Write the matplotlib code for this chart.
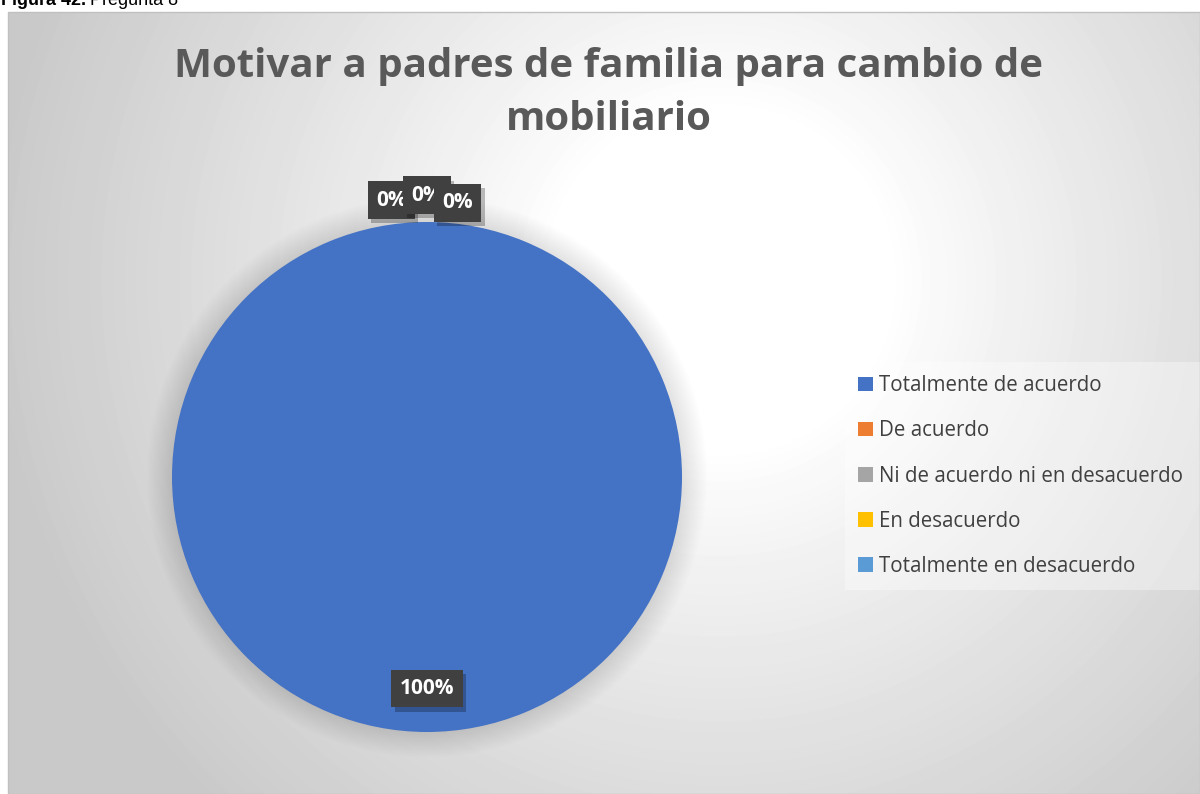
import numpy as np
import matplotlib
matplotlib.use('Agg')
import matplotlib.pyplot as plt
import matplotlib.patheffects as pe
from matplotlib.patches import Rectangle, Circle

# data
categories = ['Totalmente de acuerdo', 'De acuerdo', 'Ni de acuerdo ni en desacuerdo',
              'En desacuerdo', 'Totalmente en desacuerdo']
values = [100, 0, 0, 0, 0]
colors_list = ['#4472C4', '#ED7D31', '#A5A5A5', '#FFC000', '#5B9BD5']
title_text = 'Motivar a padres de familia para cambio de\nmobiliario'

W, H = 1200, 794
fig = plt.figure(figsize=(W / 100, H / 100), dpi=100)
fig.patch.set_facecolor('white')

# chart area background (radial gradient, white around the upper middle)
bg = fig.add_axes([8 / W, 0, 1 - 8 / W, 1 - 12 / H])
bg.set_axis_off()
yy, xx = np.mgrid[0:782, 0:1192]
dist = np.sqrt((xx - 712) ** 2 + (yy - 268) ** 2)
shade = 1.0 - 0.21 * np.clip((dist - 170) / 560, 0, 1) ** 0.9
bg.imshow(shade, cmap='gray', vmin=0, vmax=1, aspect='auto', interpolation='bilinear')
fig.add_artist(Rectangle((8 / W, 0), 1 - 8 / W, 1 - 12 / H, transform=fig.transFigure,
                         fill=False, edgecolor='#c0c0c0', linewidth=1))

# caption above the chart (clipped at top like in the document)
cap1 = fig.text(1 / W, 1 - 5 / H, 'Figura 42.', fontsize=13, fontweight='bold',
                family='Liberation Sans', va='baseline', ha='left')
fig.canvas.draw()
bb = cap1.get_window_extent()
fig.text((bb.x1 + 4) / W, 1 - 5 / H, 'Pregunta 8', fontsize=13,
         family='Liberation Sans', va='baseline', ha='left')

fig.text(609 / W, 1 - 93 / H, title_text, ha='center', va='center', fontsize=29,
         fontweight='bold', color='#595959', family='Open Sans', linespacing=1.45)

ax = fig.add_axes([172 / W, 1 - 732 / H, 510 / W, 510 / H])
ax.set_axis_off()
# soft shadow around the pie
for k in range(14):
    ax.add_patch(Circle((0, 0), 1.0 + 0.007 * (k + 1), facecolor='#000000',
                        alpha=0.009, edgecolor='none', clip_on=False, zorder=0))
wedges, _ = ax.pie(values, colors=colors_list, startangle=90, counterclock=False,
                   radius=1, wedgeprops={'linewidth': 0})
ax.set_xlim(-1, 1)
ax.set_ylim(-1, 1)

total = sum(values)
zero_offsets = [-0.14, 0.0, 0.12]
zero_rise = [1.085, 1.105, 1.075]
zi = 0
for w, v in zip(wedges, values):
    pct = '%d%%' % round(100 * v / total)
    mid = np.deg2rad((w.theta1 + w.theta2) / 2)
    if v > 0:
        x, y = 0.83 * np.cos(mid), 0.83 * np.sin(mid)
    else:
        if zi >= len(zero_offsets):
            continue
        x = zero_offsets[zi]
        y = zero_rise[zi]
        zi += 1
    t = ax.text(x, y, pct, ha='center', va='center', fontsize=15, fontweight='bold',
                color='white', family='Open Sans', clip_on=False, zorder=5,
                bbox=dict(boxstyle='square,pad=0.4', facecolor='#404040', edgecolor='none'))
    t.get_bbox_patch().set_path_effects([
        pe.SimplePatchShadow(offset=(2.5, -3), shadow_rgbFace='#000000', alpha=0.25),
        pe.Normal()])

# legend
leg_ax = fig.add_axes([845 / W, 1 - 590 / H, 355 / W, 228 / H])
leg_ax.set_axis_off()
leg_ax.add_patch(Rectangle((0, 0), 1, 1, transform=leg_ax.transAxes,
                           facecolor='white', alpha=0.35, edgecolor='none'))
handles = [Rectangle((0, 0), 1, 1, facecolor=c, edgecolor='none') for c in colors_list]
leg = leg_ax.legend(handles, categories, loc='center left', bbox_to_anchor=(0.0, 0.5),
                    frameon=False, handlelength=0.7, handleheight=0.7,
                    handletextpad=0.3, labelspacing=1.17, borderaxespad=0.25,
                    prop={'family': 'Open Sans', 'size': 14.8})
for t in leg.get_texts():
    t.set_color('#404040')

fig.savefig('out.png', dpi=100)
